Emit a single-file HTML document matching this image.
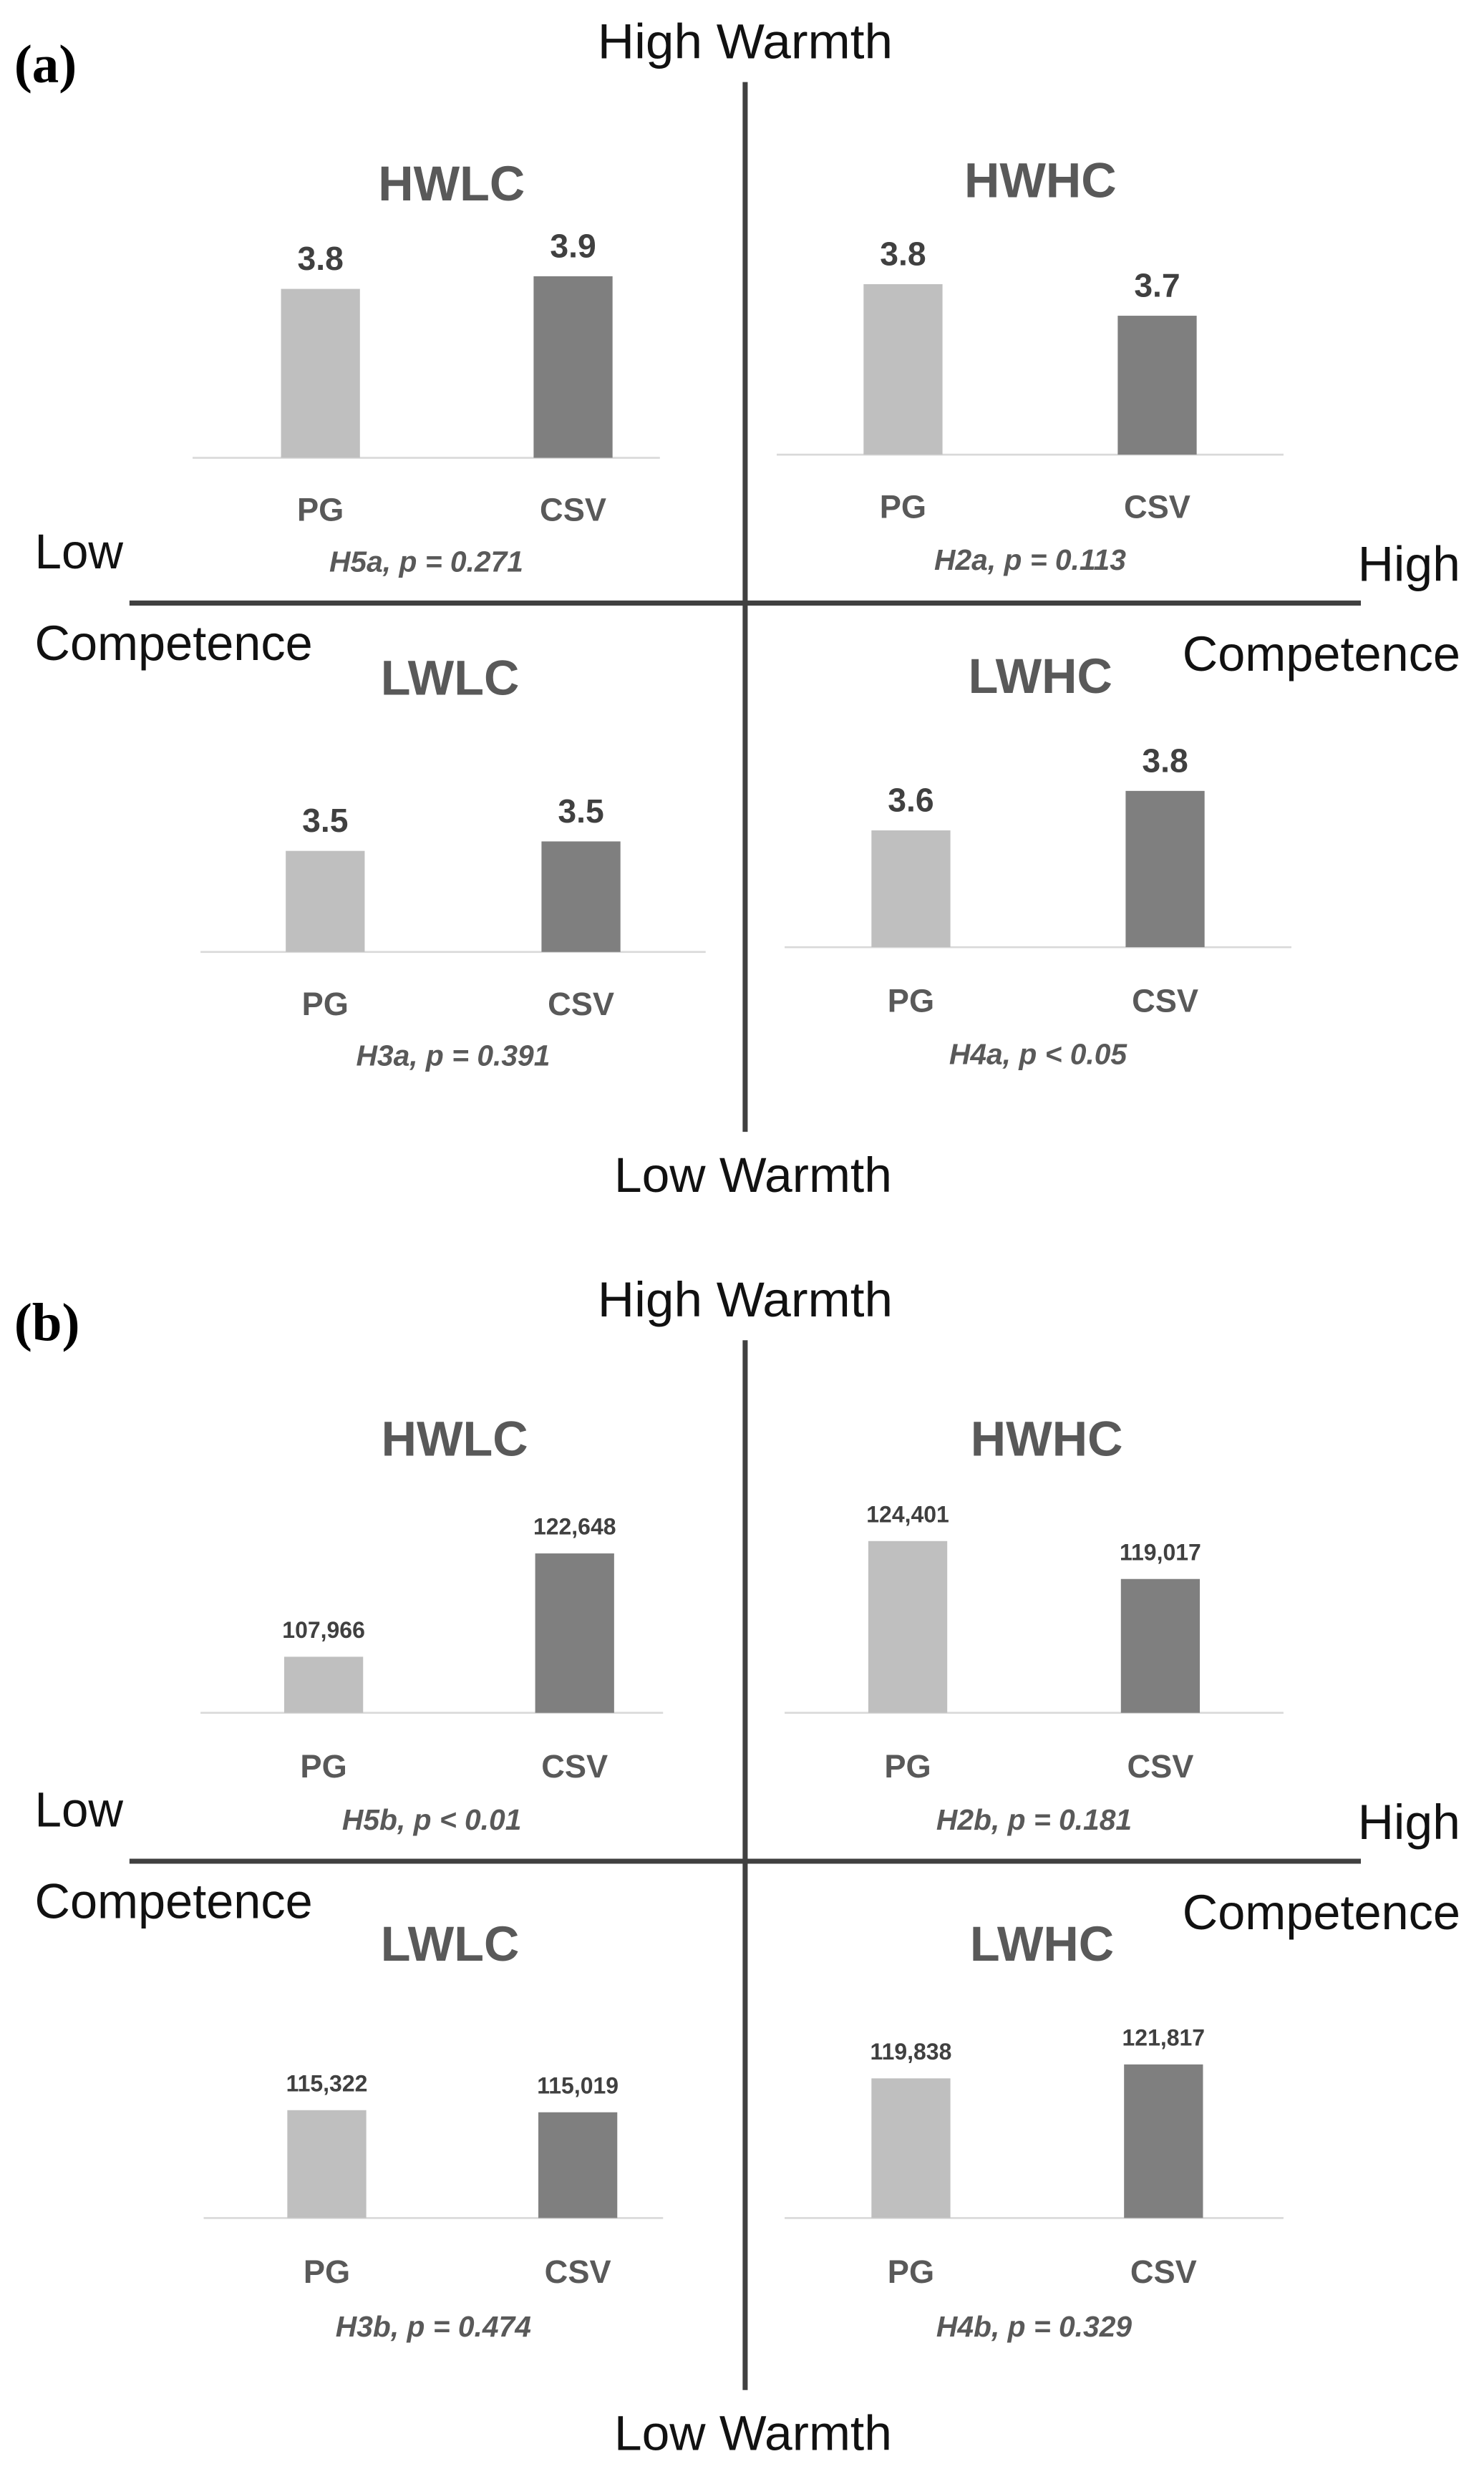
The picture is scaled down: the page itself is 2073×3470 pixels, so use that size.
<!DOCTYPE html>
<html><head><meta charset="utf-8"><style>
html,body{margin:0;padding:0;background:#fff;}
svg{display:block;}
</style></head><body>
<svg id="chart" width="2073" height="3470" viewBox="0 0 940 1573.5" preserveAspectRatio="none" xmlns="http://www.w3.org/2000/svg"></svg>
<script>
// ---- data ----
const categories = ["PG", "CSV"];
const panelAQuadrants = ["HWLC", "HWHC", "LWLC", "LWHC"];
const panelAValues = [[3.77, 3.85], [3.78, 3.58], [3.34, 3.40], [3.44, 3.69]];
const panelALabels = [["3.8", "3.9"], ["3.8", "3.7"], ["3.5", "3.5"], ["3.6", "3.8"]];
const panelACaptions = ["H5a, p = 0.271", "H2a, p = 0.113", "H3a, p = 0.391", "H4a, p < 0.05"];
const panelBQuadrants = ["HWLC", "HWHC", "LWLC", "LWHC"];
const panelBValues = [[107966, 122648], [124401, 119017], [115322, 115019], [119838, 121817]];
const panelBLabels = [["107,966", "122,648"], ["124,401", "119,017"], ["115,322", "115,019"], ["119,838", "121,817"]];
const panelBCaptions = ["H5b, p < 0.01", "H2b, p = 0.181", "H3b, p = 0.474", "H4b, p = 0.329"];
const panelAAxisMin = 2.7, panelAAxisMax = 4.2;
const panelBAxisMin = 100000, panelBAxisMax = 131400;

const NS = "http://www.w3.org/2000/svg";
const svg = document.getElementById("chart");
function mk(tag, attrs, parent) {
  const e = document.createElementNS(NS, tag);
  for (const k in attrs) e.setAttribute(k, attrs[k]);
  (parent || svg).appendChild(e);
  return e;
}
function txt(s, attrs, parent) { const e = mk("text", attrs, parent); e.textContent = s; return e; }

const SANS = '"Liberation Sans", "DejaVu Sans", sans-serif';
const GRAY = "#595959";

const layoutA = [
  [286,127, 122,418,290, 178,338, 330,362],
  [659,125, 492,813,288, 547,708, 328,361],
  [285,440, 127,447,603, 181,343, 643,675],
  [659,439, 497,818,600, 552,713, 641,674]
];
const layoutB = [
  [288,922, 127,420,1085, 180,339, 1126,1159],
  [663,922, 497,813,1085, 550,710, 1126,1159],
  [285,1242, 129,420,1405, 182,341, 1446,1480],
  [660,1242, 497,813,1405, 552,712, 1446,1480]
];

function drawPanel(id, quads, values, labels, captions, layout, amin, amax, pxPerRange, valSize) {
  const g = mk("g", {}, svg);
  
  
  const y = v => (v - amin) / (amax - amin) * pxPerRange;
  quads.forEach((q, i) => {
    const L = layout[i];
    const qg = mk("g", {}, g);
    
    
    const t = txt(q, {x: L[0], y: L[1], "text-anchor": "middle", "font-family": SANS, "font-weight": "bold", "font-size": 31, fill: GRAY}, qg);
    
    
    const bl = mk("line", {x1: L[2], x2: L[3], y1: L[4], y2: L[4], stroke: "#d9d9d9", "stroke-width": 1.2}, qg);
    
    
    categories.forEach((c, j) => {
      const bx = L[5 + j];
      const h = y(values[i][j]);
      const r = mk("rect", {x: bx, y: L[4] - h, width: 50, height: h, fill: j === 0 ? "#bfbfbf" : "#7f7f7f"}, qg);
      
      
      const vl = txt(labels[i][j], {x: bx + 25, y: L[4] - h - 12, "text-anchor": "middle", "font-family": SANS, "font-weight": "bold", "font-size": valSize, fill: "#404040"}, qg);
      
      
      const cl = txt(c, {x: bx + 25, y: L[7], "text-anchor": "middle", "font-family": SANS, "font-weight": "bold", "font-size": 20.5, fill: GRAY}, qg);
      
      
    });
    const cap = txt(captions[i], {x: (L[2] + L[3]) / 2, y: L[8], "text-anchor": "middle", "font-family": SANS, "font-weight": "bold", "font-style": "italic", "font-size": 18.5, fill: GRAY}, qg);
    
    
  });
}

function drawAxes(id, off, letter) {
  const g = mk("g", {}, svg);
  
  
  const pl = txt("(" + letter + ")", {x: 9, y: 52 + off, "font-family": '"Liberation Serif", serif', "font-weight": "bold", "font-size": 34, fill: "#000"}, g);
  
  
  const v = mk("line", {x1: 472, x2: 472, y1: 52 + off, y2: 717 + off, stroke: "#404040", "stroke-width": 3.2}, g);
  
  
  const h = mk("line", {x1: 82, x2: 862, y1: 382 + off, y2: 382 + off, stroke: "#404040", "stroke-width": 3.2}, g);
  
  
  const labs = [
    ["High Warmth", 472, 37, "middle", 'high-warmth-label', 187],
    ["Low Warmth", 477, 755, "middle", 'low-warmth-label', 176],
    ["Low", 22, 360, "start", 'low-label', 56],
    ["Competence", 22, 418, "start", 'low-competence-label', 176],
    ["High", 925, 368, "end", 'high-label', 65],
    ["Competence", 925, 425, "end", 'high-competence-label', 176]
  ];
  labs.forEach(l => {
    const t = txt(l[0], {x: l[1], y: l[2] + off, "text-anchor": l[3], "font-family": SANS, "font-size": 31, fill: "#111", textLength: l[5], lengthAdjust: "spacingAndGlyphs"}, g);
    
    
  });
}

drawAxes("a", 0, "a");
drawAxes("b", 797, "b");
drawPanel("a", panelAQuadrants, panelAValues, panelALabels, panelACaptions, layoutA, panelAAxisMin, panelAAxisMax, 150, 21);
drawPanel("b", panelBQuadrants, panelBValues, panelBLabels, panelBCaptions, layoutB, panelBAxisMin, panelBAxisMax, 140, 14.5);
</script>
</body></html>
